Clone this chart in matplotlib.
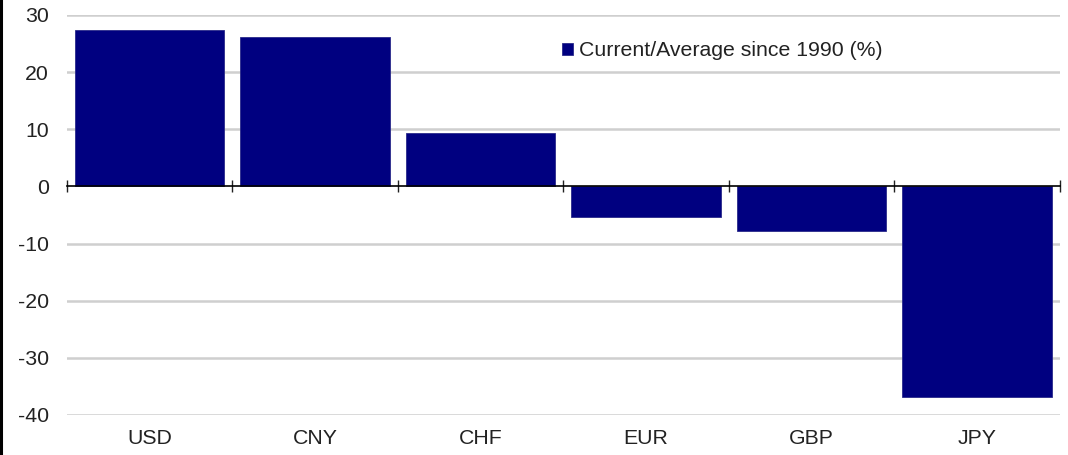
import matplotlib
matplotlib.use("Agg")
import matplotlib.pyplot as plt
from matplotlib.lines import Line2D
import numpy as np

currencies = ["USD", "CNY", "CHF", "EUR", "GBP", "JPY"]
values = [27.3, 26.2, 9.3, -5.4, -7.8, -36.8]
yticks = [30, 20, 10, 0, -10, -20, -30, -40]
legend_label = "Current/Average since 1990 (%)"

plt.rcParams['font.family'] = ['Liberation Sans', 'DejaVu Sans']

W, H = 1068, 455
FS = 15.3
fig = plt.figure(figsize=(W / 100, H / 100), dpi=100)
ax = fig.add_axes([66.7 / W, 1 - 415 / H, (1059.7 - 66.7) / W, 400 / H])

x = np.arange(len(currencies))
ax.bar(x, values, width=0.905, color="#000080", edgecolor="#2a2a8a",
       linewidth=0.6, zorder=3, label=legend_label)

ax.set_xlim(-0.5, len(currencies) - 0.5)
ax.set_ylim(-40, 30)
ax.set_yticks(yticks)
ax.set_yticklabels([str(v) for v in yticks], fontsize=FS, color="#222222")
ax.tick_params(axis='y', length=0, pad=13)

for v in yticks:
    if v != 0:
        ax.axhline(v, color="#cfcfcf", linewidth=1.8, zorder=1)

for s in ["top", "right", "left"]:
    ax.spines[s].set_visible(False)
ax.spines["bottom"].set_position(("data", 0))
ax.spines["bottom"].set_color("black")
ax.spines["bottom"].set_linewidth(1.2)
ax.spines["bottom"].set_zorder(4)
ax.set_xticks(np.arange(len(currencies) + 1) - 0.5)
ax.set_xticklabels([])
ax.tick_params(axis='x', direction='inout', length=9, width=1.0, color="#222222")

sec = ax.secondary_xaxis(location=0)
sec.set_xticks(x)
sec.set_xticklabels(currencies, fontsize=FS, color="#222222")
sec.tick_params(axis='x', length=0, pad=10)
sec.spines["bottom"].set_visible(False)

leg = ax.legend(loc="center left", bbox_to_anchor=(562 / W, 1 - 51 / H),
                bbox_transform=fig.transFigure, frameon=False, fontsize=FS,
                handlelength=0.5, handleheight=0.5, handletextpad=0.3,
                borderpad=0, borderaxespad=0)
for t in leg.get_texts():
    t.set_color("#222222")

fig.add_artist(Line2D([1.2 / W, 1.2 / W], [0, 1], transform=fig.transFigure,
                      color="black", linewidth=2.2))

fig.savefig("out.png", dpi=100)
